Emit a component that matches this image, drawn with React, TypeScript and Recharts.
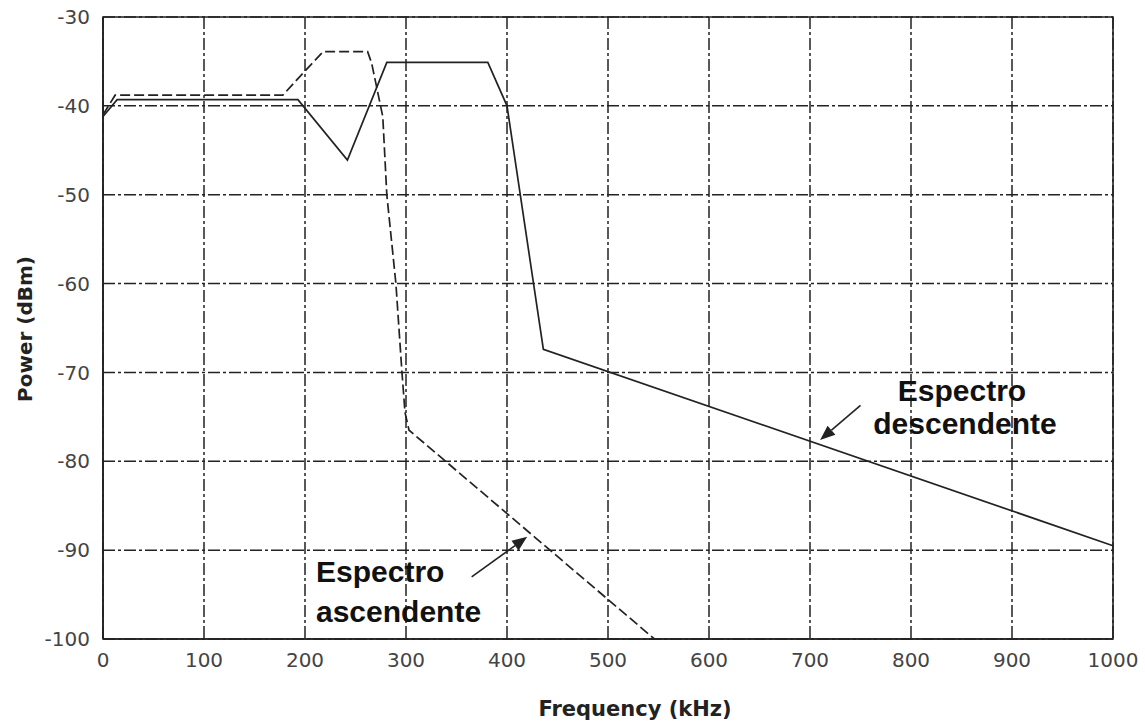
import { LineChart, Line, XAxis, YAxis, CartesianGrid, ReferenceLine, ReferenceArea } from "recharts";

const freqTicks = [0, 100, 200, 300, 400, 500, 600, 700, 800, 900, 1000];
const powerTicks = [-100, -90, -80, -70, -60, -50, -40, -30];

const descendente = [
  { f: 0, p: -41.2 },
  { f: 14, p: -39.3 },
  { f: 193, p: -39.3 },
  { f: 242, p: -46.1 },
  { f: 281, p: -35.1 },
  { f: 381, p: -35.1 },
  { f: 400, p: -40 },
  { f: 436, p: -67.4 },
  { f: 1000, p: -89.5 },
];

const ascendente = [
  { f: 0, p: -41 },
  { f: 12, p: -38.8 },
  { f: 178, p: -38.8 },
  { f: 199, p: -36.2 },
  { f: 218, p: -33.9 },
  { f: 262, p: -33.9 },
  { f: 266, p: -35.2 },
  { f: 277, p: -41.2 },
  { f: 281, p: -50 },
  { f: 290, p: -60 },
  { f: 296, p: -70 },
  { f: 299, p: -74.5 },
  { f: 303, p: -76.5 },
  { f: 546, p: -100 },
];

// arrow annotations, tail -> tip, in data units
const arrowDesc = [{ x: 750, y: -73.7 }, { x: 710, y: -77.6 }];
const arrowAsc = [{ x: 365, y: -93 }, { x: 420, y: -88.5 }];

const ink = "#222";

function Arrow(props: any) {
  const { x1, y1, x2, y2 } = props;
  const dx = x2 - x1;
  const dy = y2 - y1;
  const len = Math.sqrt(dx * dx + dy * dy) || 1;
  const ux = dx / len;
  const uy = dy / len;
  const hl = 15;
  const hw = 6;
  const bx = x2 - ux * hl;
  const by = y2 - uy * hl;
  const pts = `${x2},${y2} ${bx - uy * hw},${by + ux * hw} ${bx + uy * hw},${by - ux * hw}`;
  return (
    <g>
      <line x1={x1} y1={y1} x2={bx} y2={by} stroke={ink} strokeWidth={1.6} />
      <polygon points={pts} fill={ink} />
    </g>
  );
}

const tickStyle = { fontFamily: "DejaVu Sans", fontSize: 20, fill: "#444" };
const noteStyle: React.CSSProperties = {
  fontFamily: "Liberation Sans, Arial",
  fontSize: 30,
  fontWeight: "bold",
  fill: "#111",
};

export default function App() {
  return (
    <div style={{ position: "relative", width: 1145, height: 724, background: "#fff" }}>
      <style>{"body{margin:0}"}</style>
      <LineChart width={1145} height={724} margin={{ top: 17, right: 32, bottom: 0, left: 0 }}>
        <CartesianGrid stroke={ink} strokeWidth={1.5} strokeDasharray="12 3 3 3" />
        <XAxis
          type="number"
          dataKey="f"
          domain={[0, 1000]}
          ticks={freqTicks}
          height={85}
          tickSize={0}
          tickMargin={14}
          axisLine={{ stroke: ink, strokeWidth: 1.6 }}
          tick={tickStyle}
          interval={0}
        />
        <YAxis
          type="number"
          dataKey="p"
          domain={[-100, -30]}
          ticks={powerTicks}
          width={103}
          tickSize={0}
          tickMargin={13}
          axisLine={{ stroke: ink, strokeWidth: 1.6 }}
          tick={tickStyle}
          interval={0}
          allowDataOverflow
        />
        <ReferenceArea x1={0} x2={1000} y1={-100} y2={-30} fill="none" stroke={ink} strokeWidth={1.6} fillOpacity={0} />
        <Line
          data={ascendente}
          dataKey="p"
          type="linear"
          stroke={ink}
          strokeWidth={1.7}
          strokeDasharray="10 4"
          dot={false}
          isAnimationActive={false}
        />
        <Line
          data={descendente}
          dataKey="p"
          type="linear"
          stroke={ink}
          strokeWidth={1.7}
          dot={false}
          isAnimationActive={false}
        />
        <ReferenceLine segment={arrowDesc} shape={Arrow} ifOverflow="visible" />
        <ReferenceLine segment={arrowAsc} shape={Arrow} ifOverflow="visible" />
      </LineChart>
      <svg width={1145} height={724} style={{ position: "absolute", left: 0, top: 0, pointerEvents: "none" }}>
        <text x={962} y={401} textAnchor="middle" style={noteStyle}>Espectro</text>
        <text x={965} y={434} textAnchor="middle" style={noteStyle}>descendente</text>
        <text x={316} y={582} textAnchor="start" style={noteStyle}>Espectro</text>
        <text x={316} y={622} textAnchor="start" style={noteStyle}>ascendente</text>
        <text
          x={635}
          y={716}
          textAnchor="middle"
          style={{ fontFamily: "DejaVu Sans", fontSize: 21, fontWeight: "bold", fill: "#222" }}
        >
          Frequency (kHz)
        </text>
        <text
          x={0}
          y={0}
          transform="translate(32,329) rotate(-90)"
          textAnchor="middle"
          style={{ fontFamily: "DejaVu Sans", fontSize: 20, fontWeight: "bold", fill: "#222" }}
        >
          Power (dBm)
        </text>
      </svg>
    </div>
  );
}
